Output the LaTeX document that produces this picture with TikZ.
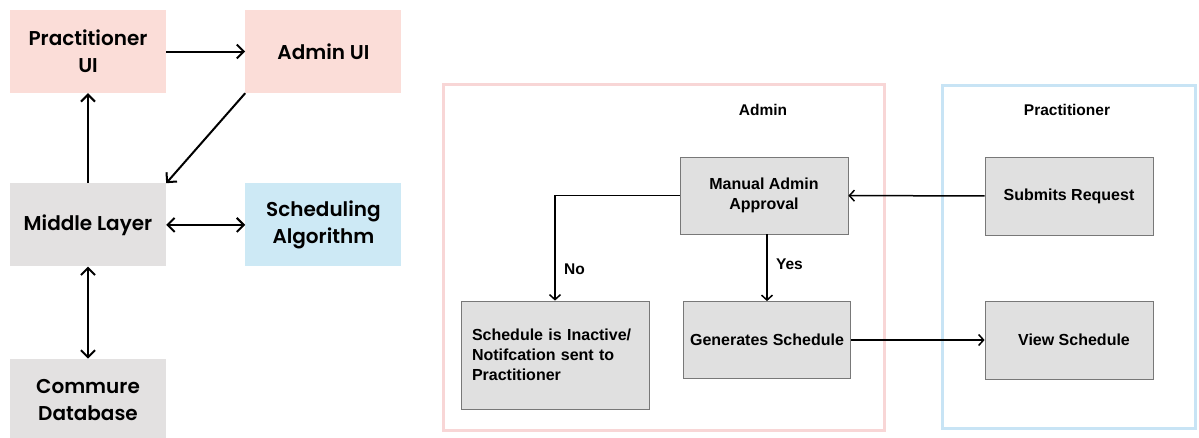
\documentclass[tikz,border=0pt]{standalone}
\usepackage{fontspec}
\setmainfont{Liberation Sans}
\newfontfamily\popfont{Poppins}[BoldFont={Poppins SemiBold}]
\usetikzlibrary{arrows.meta, positioning}

\definecolor{pinkfill}{RGB}{251,221,216}
\definecolor{greyfill}{RGB}{227,225,225}
\definecolor{bluefill}{RGB}{205,233,245}
\definecolor{pinkframe}{RGB}{248,214,214}
\definecolor{blueframe}{RGB}{200,228,245}
\definecolor{stepfill}{RGB}{224,224,224}
\definecolor{stepline}{RGB}{120,120,120}

\begin{document}
\begin{tikzpicture}[
    x=1pt, y=-1pt,
    node distance=79pt and 79pt,
    block/.style={rectangle, fill=greyfill, minimum width=156pt, minimum height=83pt, align=center, font=\popfont\bfseries\fontsize{20}{27}\selectfont},
    stepbox/.style={rectangle, draw=stepline, line width=0.8pt, fill=stepfill, minimum height=77pt, align=center, font=\bfseries\fontsize{16}{20}\selectfont},
    title/.style={font=\bfseries\fontsize{15.5}{18}\selectfont},
    arrow/.style={-{Straight Barb[length=7pt, width=14pt, line width=2pt]}, line width=2pt, draw=black},
    twoway/.style={{Straight Barb[length=7pt, width=14pt, line width=2pt]}-{Straight Barb[length=7pt, width=14pt, line width=2pt]}, line width=2pt, draw=black},
    flow/.style={-{Straight Barb[length=5pt, width=11pt, line width=1.5pt]}, line width=1.5pt, draw=black}
]
    \useasboundingbox (0,0) rectangle (1199,437);

    % left: components
    \node (prac) [block, fill=pinkfill] at (88,51.5) {Practitioner\\UI};
    \node (admin) [block, fill=pinkfill, right=of prac] {Admin UI};
    \node (middle) [block, below=90pt of prac] {Middle Layer};
    \node (sched) [block, fill=bluefill, right=of middle] {Scheduling\\Algorithm};
    \node (db) [block, below=92pt of middle] {Commure\\Database};

    \draw [arrow] (prac) -- (admin);
    \draw [arrow] (admin.south west) -- (middle.north east);
    \draw [arrow] (middle) -- (prac);
    \draw [twoway] (middle) -- (sched);
    \draw [twoway] (middle) -- (db);

    % right: swimlanes
    \draw [pinkframe, line width=3pt] (443,84) rectangle (884,430);
    \draw [blueframe, line width=3pt] (942,85) rectangle (1195,428);
    \node (adminlbl) [title] at (763,110) {Admin};
    \node (praclbl) [title] at (1067,110) {Practitioner};

    \node (approve) [stepbox, minimum width=168pt] at (764,195.5) {Manual Admin\\Approval};
    \node (inactive) [stepbox, minimum width=188pt, minimum height=108pt, text width=166pt, inner xsep=11pt, align=left] at (555,355) {Schedule is Inactive/\\Notifcation sent to\\Practitioner};
    \node (gen) [stepbox, minimum width=167pt] at (767,340) {Generates Schedule};
    \node (submit) [stepbox, minimum width=168pt, minimum height=78pt] at (1069,196) {Submits Request};
    \node (view) [stepbox, minimum width=168pt, minimum height=78pt] at (1069,340) {\hspace{10pt}View Schedule};

    \draw [flow] (approve.west) -| node [pos=0.85, right=5pt, title] {No} (inactive.north);
    \draw [flow] (approve.south -| gen.north) -- node [pos=0.45, right=5pt, title] {Yes} (gen.north);
    \draw [flow] (submit) -- (approve);
    \draw [flow] (gen) -- (view);
\end{tikzpicture}
\end{document}
